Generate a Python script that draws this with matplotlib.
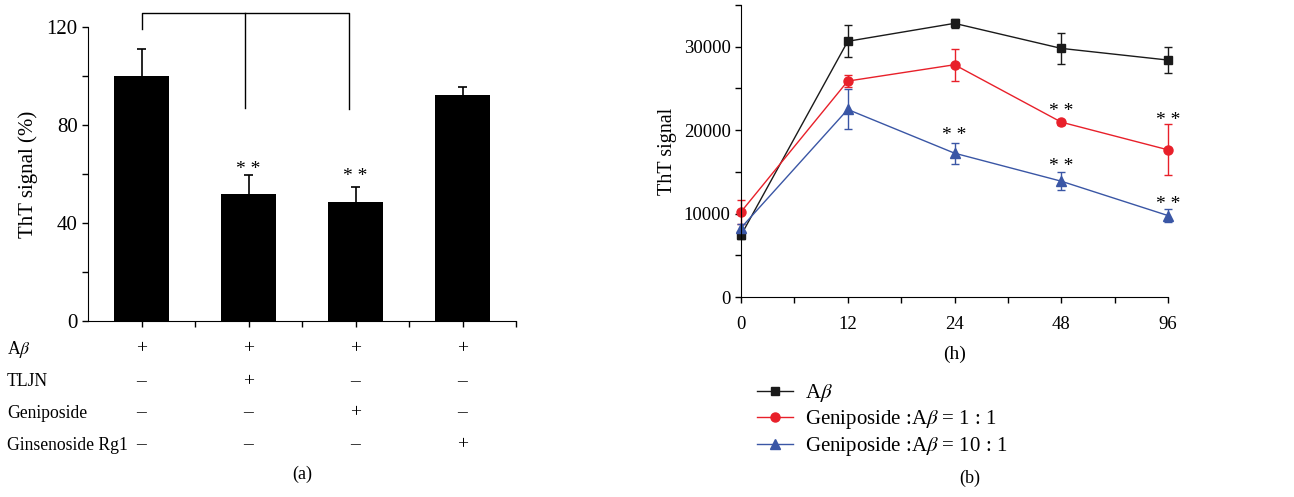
import numpy as np
import matplotlib
matplotlib.use('Agg')
from matplotlib import pyplot as plt
from matplotlib.transforms import blended_transform_factory

plt.rcParams['font.family'] = ['Liberation Serif', 'DejaVu Serif']
plt.rcParams['mathtext.fontset'] = 'stix'

# panel (a) data
bar_vals = [100.2, 52.0, 48.6, 92.4]
bar_errs = [11.0, 7.4, 6.0, 3.0]
bar_stars = [(1, 62.0), (2, 58.8)]
row_names = ['A$\\beta$', 'TLJN', 'Geniposide', 'Ginsenoside Rg1']
row_signs = [['+', '+', '+', '+'],
             ['\u2013', '+', '\u2013', '\u2013'],
             ['\u2013', '\u2013', '+', '\u2013'],
             ['\u2013', '\u2013', '\u2013', '+']]

# panel (b) data
time_labels = ['0', '12', '24', '48', '96']
abeta = [7400, 30650, 32800, 29800, 28400]
abeta_err = [400, 1900, 500, 1900, 1550]
gen_1 = [10200, 25880, 27840, 20960, 17640]
gen_1_err = [1400, 700, 1900, 300, 3050]
gen_10 = [8280, 22480, 17240, 13880, 9760]
gen_10_err = [500, 2400, 1250, 1100, 800]
star_pts = [(2, 19300), (3, 22200), (3, 15600), (4, 21200), (4, 11100)]

W, H = 1294, 497
fig = plt.figure(figsize=(W / 100, H / 100), dpi=100)

def px_axes(l, t, r, b):
    return fig.add_axes([l / W, 1 - b / H, (r - l) / W, (b - t) / H])

# ---------- panel (a) ----------
ax1 = px_axes(88, 27, 516, 321)
x = np.arange(4)
tops = np.array(bar_vals) + np.array(bar_errs)
ax1.vlines(x, bar_vals, tops, color='black', lw=1.2, zorder=2)
ax1.hlines(tops, x - 0.04, x + 0.04, color='black', lw=1.2, zorder=2)
ax1.bar(x, bar_vals, width=0.51, color='black', zorder=3)
ax1.set_xlim(-0.5, 3.5)
ax1.set_ylim(0, 120)
ax1.set_yticks([0, 40, 80, 120])
ax1.set_yticks([20, 60, 100], minor=True)
ax1.set_xticks(x)
ax1.set_xticks([0.5, 1.5, 2.5, 3.5], minor=True)
ax1.set_xticklabels([])
for s in ['top', 'right']:
    ax1.spines[s].set_visible(False)
ax1.tick_params(which='both', direction='out', length=4, width=1, labelsize=15)
ax1.set_ylabel('ThT signal (%)', fontsize=15, labelpad=6)

# bracket
ax1.plot([0, 0, 1.94, 1.94], [119.2, 125.7, 125.7, 86.5], color='black', lw=1, clip_on=False)
ax1.plot([0.97, 0.97], [125.7, 86.9], color='black', lw=1, clip_on=False)
for bx, by in bar_stars:
    ax1.text(bx, by, '* *', ha='center', va='center', fontsize=14)

# treatment table
tr = blended_transform_factory(ax1.transData, fig.transFigure)
row_y = [349, 382, 413, 445]
for name, signs, yp in zip(row_names, row_signs, row_y):
    fig.text(7 / W, 1 - yp / H, name, ha='left', va='center', fontsize=12.7)
    for i, s in enumerate(signs):
        ax1.text(i, 1 - yp / H, s, transform=tr, ha='center', va='center', fontsize=14)
fig.text(302 / W, 1 - 474 / H, '(a)', ha='center', va='center', fontsize=13)

# ---------- panel (b) ----------
ax2 = px_axes(741, 5, 1168, 297)
xt = np.arange(5)
series = [(abeta, abeta_err, '#1a1a1a', 's', 6, 'A$\\beta$'),
          (gen_1, gen_1_err, '#e8202a', 'o', 6.5, 'Geniposide :A$\\beta$ = 1 : 1'),
          (gen_10, gen_10_err, '#3a56a5', '^', 7, 'Geniposide :A$\\beta$ = 10 : 1')]
for vals, errs, col, mk, ms, lab in series:
    ax2.errorbar(xt, vals, yerr=errs, fmt='none', ecolor=col, elinewidth=1,
                 capsize=3, capthick=1, clip_on=False)
    ax2.plot(xt, vals, color=col, marker=mk, ms=ms, lw=1, label=lab, clip_on=False)
for xs, ys in star_pts:
    ax2.text(xs, ys, '* *', ha='center', va='center', fontsize=14)
ax2.set_xlim(0, 4)
ax2.set_ylim(0, 35000)
ax2.set_xticks(xt)
ax2.set_xticklabels(time_labels)
ax2.set_xticks([0.5, 1.5, 2.5, 3.5], minor=True)
ax2.set_yticks([0, 10000, 20000, 30000])
ax2.set_yticks([5000, 15000, 25000, 35000], minor=True)
for s in ['top', 'right']:
    ax2.spines[s].set_visible(False)
ax2.tick_params(which='both', direction='out', length=4, width=1, labelsize=13.5)
ax2.tick_params(axis='x', pad=10)
ax2.set_ylabel('ThT signal', fontsize=14.5, labelpad=5)
ax2.set_xlabel('(h)', fontsize=14, labelpad=9)
ax2.legend(loc='upper left', bbox_to_anchor=(757 / W, 1 - 382 / H), bbox_transform=fig.transFigure,
           frameon=False, fontsize=15, handlelength=1.75, handletextpad=0.55, labelspacing=0.2,
           borderaxespad=0, borderpad=0)
fig.text(970 / W, 1 - 478 / H, '(b)', ha='center', va='center', fontsize=13)

fig.savefig('out.png', dpi=100)
